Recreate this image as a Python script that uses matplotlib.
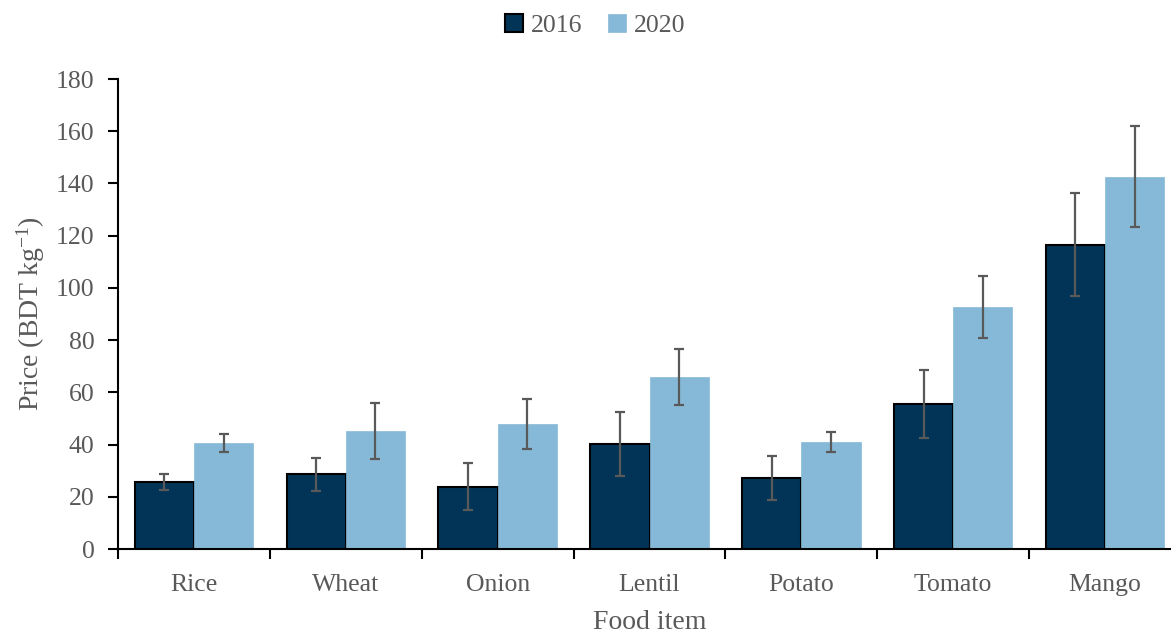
import matplotlib
matplotlib.use("Agg")
from matplotlib import pyplot as plt
import numpy as np

items = ["Rice", "Wheat", "Onion", "Lentil", "Potato", "Tomato", "Mango"]
price_2016 = [25.8, 28.6, 23.9, 40.2, 27.2, 55.5, 116.6]
err_2016 = [3.1, 6.3, 9.0, 12.2, 8.4, 13.0, 19.7]
price_2020 = [40.6, 45.2, 47.9, 65.9, 41.0, 92.6, 142.6]
err_2020 = [3.4, 10.7, 9.5, 10.7, 4.0, 11.8, 19.4]

dark = "#023457"
light = "#86B9D7"
grey = "#595959"

plt.rcParams["font.family"] = ["Liberation Serif", "DejaVu Serif"]
plt.rcParams["mathtext.fontset"] = "custom"
plt.rcParams["mathtext.rm"] = "Liberation Serif"
plt.rcParams["mathtext.it"] = "Liberation Serif:italic"

fig = plt.figure(figsize=(11.71, 6.37), dpi=100)
ax = fig.add_axes([118 / 1171, 1 - 549 / 637, 1063 / 1171, 470 / 637])

x = np.arange(len(items))
w = 0.39
ax.bar(x - w / 2, price_2016, w, color=dark, edgecolor="black", linewidth=1.5,
       label="2016", zorder=2)
ax.bar(x + w / 2, price_2020, w, color=light, edgecolor=light, linewidth=0.5,
       label="2020", zorder=2)
ax.errorbar(x - w / 2, price_2016, yerr=err_2016, fmt="none", ecolor=grey,
            elinewidth=1.6, capsize=3.3, capthick=1.6, zorder=3)
ax.errorbar(x + w / 2, price_2020, yerr=err_2020, fmt="none", ecolor=grey,
            elinewidth=1.6, capsize=3.3, capthick=1.6, zorder=3)

ax.set_xlim(-0.5, len(items) - 0.5)
ax.set_ylim(0, 180)
ax.set_yticks(range(0, 181, 20))
ax.set_xticks(x)
ax.set_xticklabels(items)
ax.set_xticks(np.arange(-0.5, len(items), 1), minor=True)
ax.tick_params(axis="x", which="major", length=0, pad=18, labelsize=18.5, labelcolor=grey)
ax.tick_params(axis="x", which="minor", length=7, width=1.5, direction="out")
ax.tick_params(axis="y", length=7, width=1.5, pad=10, labelsize=18.5, labelcolor=grey)

for s in ["top", "right"]:
    ax.spines[s].set_visible(False)
for s in ["left", "bottom"]:
    ax.spines[s].set_linewidth(1.5)

ax.set_ylabel("Price (BDT kg$^{-1}$)", fontsize=20, color=grey, labelpad=6)
ax.set_xlabel("Food item", fontsize=20, color=grey, labelpad=10)

fig.legend(loc="center", bbox_to_anchor=(0.508, 0.96), ncol=2, frameon=False,
           fontsize=18.5, handlelength=0.7, handleheight=0.7, handletextpad=0.3,
           columnspacing=1.0, labelcolor=grey)

fig.savefig("out.png", dpi=100)
